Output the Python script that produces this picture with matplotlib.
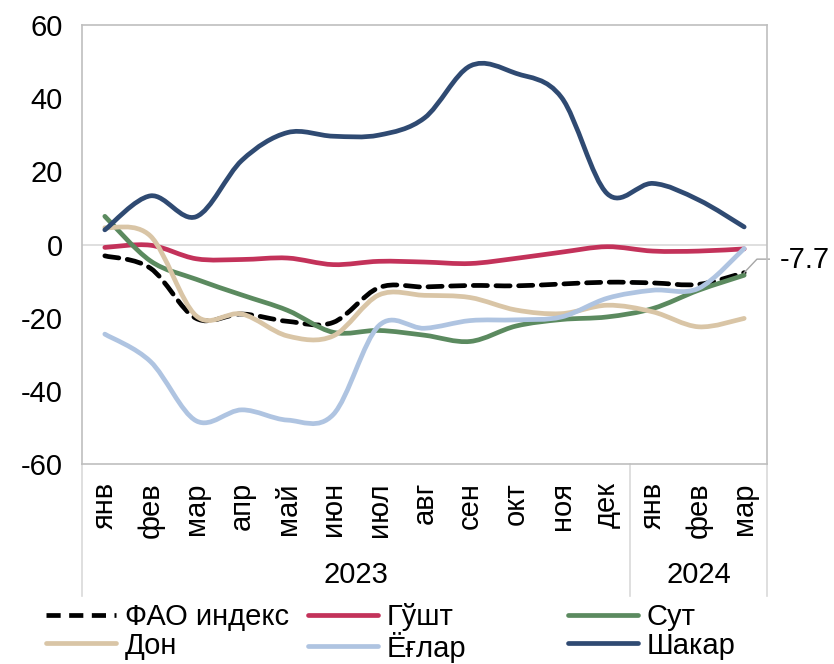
"""
FAO food price sub-indices, year-on-year change (2023 - 2024).
"""

import numpy as np
import matplotlib
matplotlib.use('Agg')
import matplotlib.pyplot as plt
from matplotlib.path import Path
from matplotlib.patches import PathPatch
from matplotlib.lines import Line2D

plt.rcParams['font.family'] = ['Liberation Sans', 'DejaVu Sans']
plt.rcParams['axes.unicode_minus'] = False

months = ['янв', 'фев', 'мар', 'апр', 'май', 'июн', 'июл', 'авг', 'сен',
          'окт', 'ноя', 'дек', 'янв', 'фев', 'мар']
years = ['2023', '2024']
n_2023 = 12

fao = [-3.1, -6.5, -20.2, -19.0, -21.0, -21.3, -11.8, -11.6, -11.2, -11.3,
       -10.8, -10.3, -10.5, -10.9, -7.7]
meat = [-0.8, -0.2, -3.9, -4.1, -3.7, -5.5, -4.6, -4.8, -5.2, -3.8,
        -2.1, -0.6, -1.8, -1.8, -1.2]
dairy = [7.7, -4.5, -9.5, -13.8, -18.0, -24.0, -23.5, -24.8, -26.5, -22.3,
         -20.5, -19.8, -17.5, -12.5, -8.4]
cereals = [4.6, 2.3, -19.5, -19.0, -25.0, -25.0, -13.8, -13.9, -14.5, -17.9,
           -18.9, -16.6, -18.4, -22.5, -20.2]
oils = [-24.5, -32.0, -48.2, -45.2, -48.0, -46.5, -22.2, -22.9, -20.8, -20.6,
        -19.8, -14.7, -12.5, -12.0, -1.1]
sugar = [4.0, 13.3, 7.6, 23.0, 30.6, 29.6, 29.9, 34.6, 48.8, 46.8,
         40.2, 13.9, 16.7, 12.2, 4.8]

names = ['ФАО индекс', 'Гўшт', 'Сут', 'Дон', 'Ёғлар', 'Шакар']
series = [fao, meat, dairy, cereals, oils, sugar]
colors = ['#000000', '#C3325A', '#5B8A5F', '#D9C5A6', '#AFC4E1', '#2F4A72']

FS = 21


def smooth_path(x, y):
    # bezier segments like excel's "smoothed line"
    verts = [(x[0], y[0])]
    codes = [Path.MOVETO]
    n = len(x)
    for i in range(n - 1):
        i0 = max(i - 1, 0)
        i3 = min(i + 2, n - 1)
        c1 = (x[i] + (x[i + 1] - x[i0]) / 6, y[i] + (y[i + 1] - y[i0]) / 6)
        c2 = (x[i + 1] - (x[i3] - x[i]) / 6, y[i + 1] - (y[i3] - y[i]) / 6)
        verts += [c1, c2, (x[i + 1], y[i + 1])]
        codes += [Path.CURVE4] * 3
    return Path(verts, codes)


fig = plt.figure(figsize=(8.34, 6.64), dpi=100)
ax = fig.add_axes([82 / 834, 1 - 464 / 664, 685 / 834, 439 / 664])

x = np.arange(len(months))
lw = 3.4
handles = []
for name, vals, col in zip(names, series, colors):
    if name == 'ФАО индекс':
        ls = (0, (3, 1.8))
    else:
        ls = '-'
    patch = PathPatch(smooth_path(x, vals), fill=False, edgecolor=col,
                      linewidth=lw, linestyle=ls, capstyle='round',
                      joinstyle='round')
    ax.add_patch(patch)
    handles.append(Line2D([], [], color=col, lw=lw, linestyle=ls,
                          solid_capstyle='round'))

ax.set_xlim(-0.5, len(months) - 0.5)
ax.set_ylim(-60, 60)
ax.set_yticks(np.arange(-60, 61, 20))
ax.axhline(0, color='#D9D9D9', lw=1.2, zorder=0)
for s in ax.spines.values():
    s.set_color('#BFBFBF')
    s.set_linewidth(1.2)
ax.tick_params(axis='y', length=0, labelsize=FS, pad=14)
ax.set_xticks(x)
ax.set_xticklabels(months, rotation=90, va='top', ha='center')
ax.tick_params(axis='x', length=0, labelsize=FS, pad=13)

# year groups under the month labels
tr = ax.get_xaxis_transform()
for xs in [-0.5, n_2023 - 0.5, len(months) - 0.5]:
    ax.plot([xs, xs], [0, -0.3], transform=tr, color='#D9D9D9', lw=1.2,
            clip_on=False)
ax.text((n_2023 - 1) / 2, -0.252, years[0], transform=tr, ha='center',
        va='center', fontsize=FS)
ax.text((n_2023 + len(months) - 1) / 2, -0.252, years[1], transform=tr,
        ha='center', va='center', fontsize=FS)

# label for the last FAO value
ax.plot([x[-1], x[-1] + 0.28, x[-1] + 0.55], [fao[-1], -4.0, -4.0],
        color='#A6A6A6', lw=1, clip_on=False)
ax.text(x[-1] + 0.77, -4.3, str(fao[-1]), fontsize=FS, ha='left',
        va='center')

# excel style legend with fixed column widths
col_x = [46, 308, 568]
for k in range(3):
    fig.legend([handles[k], handles[k + 3]], [names[k], names[k + 3]],
               loc='upper left', bbox_to_anchor=(col_x[k] / 834, 1 - 603 / 664),
               frameon=False, fontsize=FS, handlelength=2.4,
               handletextpad=0.3, labelspacing=0.02, borderpad=0,
               borderaxespad=0)

fig.savefig('out.png', dpi=100)
